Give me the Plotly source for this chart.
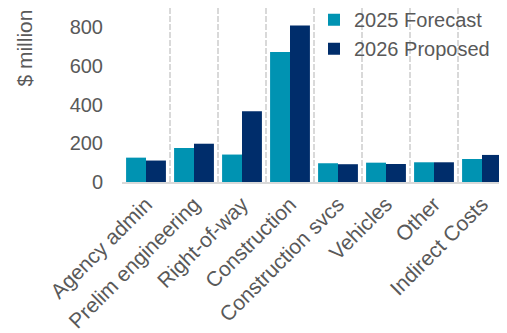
import plotly.graph_objects as go

categories = ["Agency admin", "Prelim engineering", "Right-of-way", "Construction",
              "Construction svcs", "Vehicles", "Other", "Indirect Costs"]
forecast_2025 = [126, 176, 142, 672, 97, 100, 102, 119]
proposed_2026 = [111, 198, 366, 810, 92, 93, 102, 140]
y_ticks = [0, 200, 400, 600, 800]

TEAL = "#0093B2"
NAVY = "#002D6B"
GRAY = "#595959"
FONT = "Liberation Sans, Arial, sans-serif"

fig = go.Figure()
fig.add_trace(go.Bar(x=categories, y=forecast_2025, name="2025 Forecast",
                     marker=dict(color=TEAL, line=dict(width=0))))
fig.add_trace(go.Bar(x=categories, y=proposed_2026, name="2026 Proposed",
                     marker=dict(color=NAVY, line=dict(width=0))))

# the page body has an 8px default margin, so the figure is 8px smaller
fig.update_layout(
    width=499, height=325,
    margin=dict(l=114, r=1, t=0, b=151, autoexpand=False),
    paper_bgcolor="white", plot_bgcolor="white",
    font=dict(family=FONT, size=20, color=GRAY),
    barmode="group", bargap=0.17, bargroupgap=0,
    showlegend=True,
    legend=dict(x=0.50, y=1.045, xanchor="left", yanchor="top",
                bgcolor="rgba(0,0,0,0)", font=dict(size=20, color=GRAY),
                itemwidth=30, tracegroupgap=0),
    xaxis=dict(tickangle=-45, tickson="boundaries", showgrid=True, automargin=False,
               gridcolor="#d9d9d9", griddash="6px,2px", gridwidth=2,
               showline=True, linecolor="#d9d9d9", linewidth=1.5,
               ticks="", tickfont=dict(size=21, color=GRAY)),
    yaxis=dict(range=[0, 900], tickvals=y_ticks, showgrid=False, zeroline=False,
               showline=False, ticks="", ticklabelstandoff=18, automargin=False,
               tickfont=dict(size=20, color=GRAY)),
    annotations=[dict(text="$ million", textangle=-90, xref="paper", yref="paper",
                      x=-0.255, y=1.0, xanchor="center", yanchor="top",
                      showarrow=False, font=dict(size=21, color=GRAY))],
)

fig.write_html("out.html")
